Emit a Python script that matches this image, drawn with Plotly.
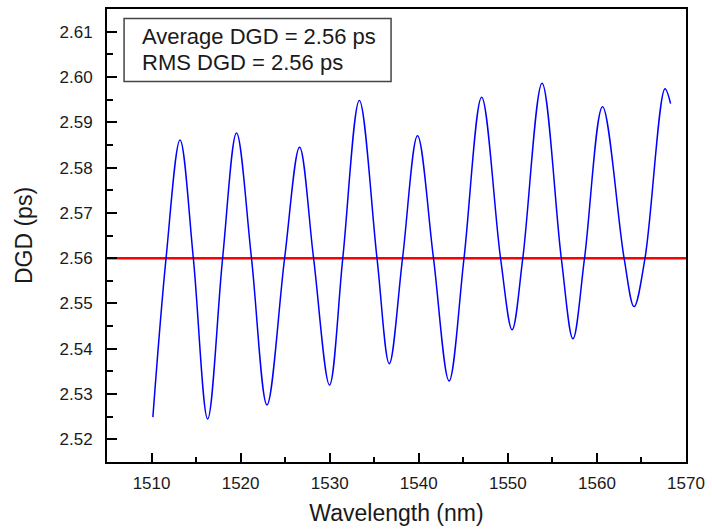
import plotly.graph_objects as go

# Blue DGD trace (peaks, troughs, 2.56 crossings)
wavelength = [1510.15, 1511.63, 1513.2, 1514.69, 1516.3, 1517.98, 1519.54, 1521.22,
              1522.96, 1524.94, 1526.62, 1528.19, 1529.98, 1531.47, 1533.33, 1535.31,
              1536.69, 1538.18, 1539.86, 1541.65, 1543.4, 1545.08, 1547.06, 1549.18,
              1550.48, 1551.68, 1553.84, 1556.0, 1557.31, 1558.61, 1560.63, 1563.05,
              1564.17, 1565.4, 1567.64, 1568.27]
dgd = [2.5249, 2.5600, 2.5861, 2.5600, 2.5245, 2.5600, 2.5876, 2.5600,
       2.5276, 2.5600, 2.5845, 2.5600, 2.5320, 2.5600, 2.5948, 2.5600,
       2.5367, 2.5600, 2.5870, 2.5600, 2.5329, 2.5600, 2.5955, 2.5600,
       2.5442, 2.5600, 2.5986, 2.5600, 2.5422, 2.5600, 2.5934, 2.5600,
       2.5493, 2.5600, 2.5974, 2.5941]

avg_x = [1505, 1570]
avg_dgd = [2.56, 2.56]

x_range = [1505, 1570]
y_range = [2.515, 2.615]
x_ticks = [1510, 1520, 1530, 1540, 1550, 1560, 1570]
y_ticks = [2.52, 2.53, 2.54, 2.55, 2.56, 2.57, 2.58, 2.59, 2.60, 2.61]
y_tick_text = ["2.52", "2.53", "2.54", "2.55", "2.56", "2.57", "2.58", "2.59", "2.60", "2.61"]
box_lines = ["Average DGD = 2.56 ps", "RMS DGD = 2.56 ps"]

FONT = "Liberation Sans, Arial, sans-serif"
TXT = "#1a1a1a"

fig = go.Figure()
fig.add_trace(go.Scatter(x=avg_x, y=avg_dgd, mode="lines",
                         line=dict(color="#ff0000", width=2.5), showlegend=False))
fig.add_trace(go.Scatter(x=wavelength, y=dgd, mode="lines",
                         line=dict(color="#0000ff", width=1.5, shape="spline", smoothing=1.0),
                         showlegend=False))

fig.update_layout(
    width=712, height=529,
    margin=dict(l=107, r=20, t=7, b=67),
    paper_bgcolor="white", plot_bgcolor="white",
    font=dict(family=FONT, color=TXT),
    xaxis=dict(range=x_range, tickvals=x_ticks, ticks="inside", ticklen=9, tickwidth=2,
               tickcolor="black", showline=True, linecolor="black", linewidth=2,
               mirror=True, showgrid=False, zeroline=False, ticklabelstandoff=5,
               tickfont=dict(size=17, family=FONT, color=TXT),
               minor=dict(dtick=5, ticks="inside", ticklen=5, tickwidth=2, tickcolor="black"),
               title=dict(text="Wavelength (nm)", font=dict(size=23, family=FONT, color=TXT),
                          standoff=12)),
    yaxis=dict(range=y_range, tickvals=y_ticks, ticktext=y_tick_text, ticks="inside",
               ticklen=10, tickwidth=2, tickcolor="black", showline=True, linecolor="black",
               linewidth=2, mirror=True, showgrid=False, zeroline=False, ticklabelstandoff=9,
               tickfont=dict(size=17, family=FONT, color=TXT),
               minor=dict(dtick=0.005, ticks="inside", ticklen=6, tickwidth=2, tickcolor="black"),
               title=dict(text="DGD (ps)", font=dict(size=23, family=FONT, color=TXT),
                          standoff=20)),
)

fig.add_shape(type="rect", xref="paper", yref="paper", x0=0.0295, x1=0.4906,
              y0=0.840, y1=0.9793, line=dict(color="#444444", width=1.5),
              fillcolor="white")
fig.add_annotation(xref="paper", yref="paper", x=0.057, y=0.9395, text=box_lines[0],
                   showarrow=False, xanchor="left", yanchor="middle",
                   font=dict(size=22, family=FONT, color=TXT))
fig.add_annotation(xref="paper", yref="paper", x=0.057, y=0.881, text=box_lines[1],
                   showarrow=False, xanchor="left", yanchor="middle",
                   font=dict(size=22, family=FONT, color=TXT))

fig.write_html("out.html")
